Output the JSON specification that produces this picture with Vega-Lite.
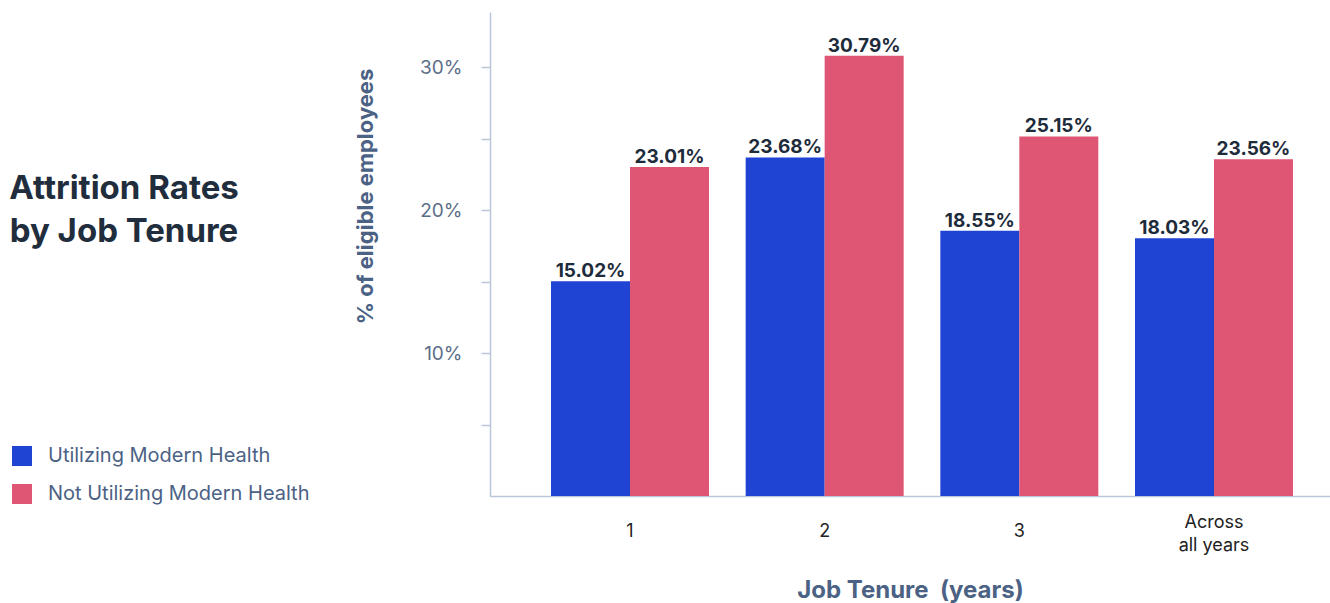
{
  "$schema": "https://vega.github.io/schema/vega-lite/v6.json",
  "width": 840,
  "height": 484,
  "autosize": "none",
  "padding": {"left": 490, "top": 12, "right": 0, "bottom": 107},
  "background": "white",
  "title": {
    "text": ["Attrition Rates", " by Job Tenure"],
    "orient": "top",
    "anchor": "start",
    "frame": "group",
    "align": "center",
    "baseline": "top",
    "offset": 0,
    "dx": -366,
    "dy": 237,
    "font": "Inter",
    "fontSize": 33,
    "fontWeight": "bold",
    "color": "#1f2d3d",
    "lineHeight": 43
  },
  "data": {
    "values": [
      {"tenure": "1", "group": "Utilizing Modern Health", "rate": 0.1502},
      {"tenure": "1", "group": "Not Utilizing Modern Health", "rate": 0.2301},
      {"tenure": "2", "group": "Utilizing Modern Health", "rate": 0.2368},
      {"tenure": "2", "group": "Not Utilizing Modern Health", "rate": 0.3079},
      {"tenure": "3", "group": "Utilizing Modern Health", "rate": 0.1855},
      {"tenure": "3", "group": "Not Utilizing Modern Health", "rate": 0.2515},
      {"tenure": "Across all years", "group": "Utilizing Modern Health", "rate": 0.1803},
      {"tenure": "Across all years", "group": "Not Utilizing Modern Health", "rate": 0.2356}
    ]
  },
  "encoding": {
    "x": {
      "field": "tenure",
      "type": "nominal",
      "sort": null,
      "scale": {"range": [0, 864], "paddingInner": 0.1884, "paddingOuter": 0.3134},
      "axis": {
        "title": "Job Tenure\u00a0 (years)",
        "labelAngle": 0,
        "ticks": false,
        "tickSize": 0,
        "labelPadding": {"condition": {"test": "datum.value == 'Across all years'", "value": 26}, "value": 35},
        "labelBaseline": "middle",
        "labelFont": "Inter",
        "labelFontSize": 18,
        "labelColor": "#222222",
        "labelLineHeight": 23,
        "labelExpr": "datum.label == 'Across all years' ? ['Across', 'all years'] : datum.label",
        "domainColor": "#bac6da",
        "domainWidth": 1.5,
        "titleFont": "Inter",
        "titleFontSize": 24,
        "titleFontWeight": "bold",
        "titleColor": "#4b6285",
        "titleX": 420,
        "titleY": 94,
        "titleAlign": "center",
        "titleBaseline": "middle"
      }
    },
    "xOffset": {
      "field": "group",
      "type": "nominal",
      "sort": ["Utilizing Modern Health", "Not Utilizing Modern Health"],
      "scale": {"paddingInner": 0, "paddingOuter": 0}
    },
    "y": {
      "field": "rate",
      "type": "quantitative",
      "scale": {"domain": [0, 0.3385], "nice": false, "zero": true},
      "axis": {
        "title": "% of eligible employees",
        "values": [0.05, 0.1, 0.15, 0.2, 0.25, 0.3],
        "format": ".0%",
        "labelExpr": "round(datum.value * 100) % 10 == 0 ? datum.label : ''",
        "grid": false,
        "tickSize": 9,
        "tickColor": "#bac6da",
        "tickWidth": 1.5,
        "domainColor": "#bac6da",
        "domainWidth": 1.5,
        "labelPadding": 19,
        "labelFont": "Inter",
        "labelFontSize": 19,
        "labelColor": "#5b6e88",
        "titleFont": "Inter",
        "titleFontSize": 22,
        "titleFontWeight": "bold",
        "titleColor": "#4b6285",
        "titleX": -125,
        "titleY": 184,
        "titleAngle": -90,
        "titleAlign": "center",
        "titleBaseline": "middle"
      }
    }
  },
  "layer": [
    {
      "mark": {"type": "bar"},
      "encoding": {
        "color": {
          "field": "group",
          "type": "nominal",
          "sort": ["Utilizing Modern Health", "Not Utilizing Modern Health"],
          "scale": {"domain": ["Utilizing Modern Health", "Not Utilizing Modern Health"], "range": ["#1f43d3", "#df5574"]},
          "legend": {
            "title": null,
            "orient": "none",
            "legendX": -478,
            "legendY": 434,
            "padding": 0,
            "symbolType": "square",
            "symbolSize": 400,
            "symbolStrokeWidth": 0,
            "symbolOpacity": 1,
            "labelFont": "Inter",
            "labelFontSize": 20,
            "labelColor": "#4b6285",
            "labelOffset": 16,
            "labelLimit": 400,
            "rowPadding": 18
          }
        }
      }
    },
    {
      "mark": {"type": "text", "baseline": "alphabetic", "dy": -4, "font": "Inter", "fontSize": 19, "fontWeight": "bold", "color": "#1e2b3b"},
      "encoding": {
        "text": {"field": "rate", "type": "quantitative", "format": ".2%"}
      }
    }
  ],
  "config": {
    "view": {"stroke": null}
  }
}
